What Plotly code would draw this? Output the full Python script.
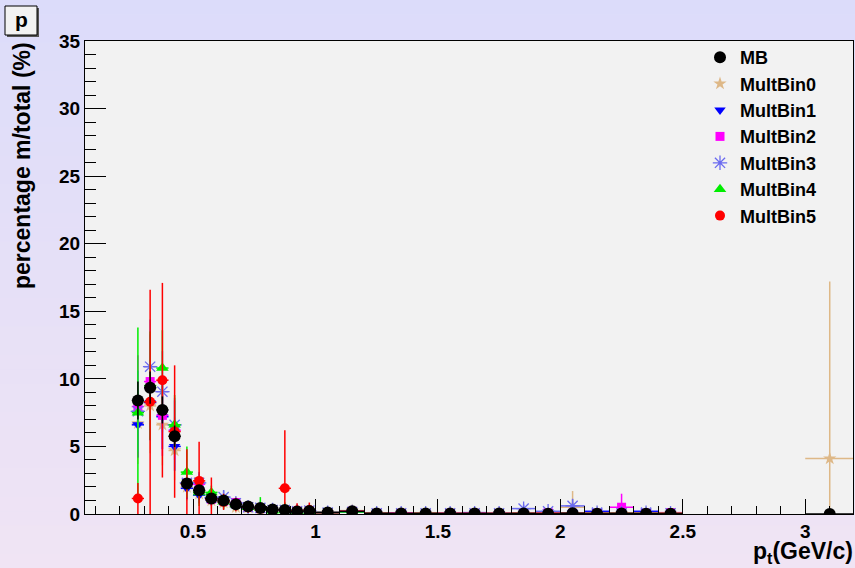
import plotly.graph_objects as go

# ---------------- data ----------------
x_low = [0.275, 0.325, 0.375, 0.425, 0.475, 0.525, 0.575, 0.625, 0.675, 0.725,
         0.775, 0.825, 0.875, 0.925, 0.975]
x_high = [1.05, 1.15, 1.25, 1.35, 1.45, 1.55, 1.65, 1.75, 1.85, 1.95,
          2.05, 2.15, 2.25, 2.35, 2.45]
x_last = [3.1]
pt = x_low + x_high + x_last
pt_err = [0.025] * len(x_low) + [0.05] * len(x_high) + [0.1]

series_names = ["MB", "MultBin0", "MultBin1", "MultBin2", "MultBin3", "MultBin4", "MultBin5"]

mb = [8.4, 9.35, 7.7, 5.75, 2.25, 1.75, 1.15, 1.0, 0.72, 0.55, 0.45, 0.33, 0.3, 0.18, 0.22,
      0.12, 0.2, 0.04, 0.04, 0.03, 0.03, 0.03, 0.03, 0.03, 0.01, 0.05, 0.01, 0.03, 0.02, 0.01,
      0.0]
mb_err = [1.4, 1.2, 1.0, 0.8, 0.4, 0.3, 0.2, 0.2, 0.15, 0.12, 0.1, 0.08, 0.08, 0.06, 0.06,
          0.04, 0.05, 0.02, 0.02, 0.02, 0.02, 0.02, 0.02, 0.02, 0.01, 0.03, 0.01, 0.02, 0.01, 0.01,
          0.0]

mult0 = [6.7, 8.0, 6.6, 4.7, 2.0, 1.5, 1.0, 0.85, 0.5, 0.45, 0.35, 0.25, 0.2, 0.15, 0.2,
         0.1, 0.25, 0.05, 0.05, 0.05, 0.03, 0.03, 0.03, 0.05, 0.03, 0.5, 0.05, 0.05, 0.05, 0.03,
         4.1]
mult0_err = [3.0, 3.5, 3.0, 2.2, 1.0, 0.8, 0.6, 0.5, 0.4, 0.35, 0.3, 0.25, 0.2, 0.2, 0.2,
             0.1, 0.15, 0.05, 0.05, 0.05, 0.03, 0.03, 0.03, 0.05, 0.03, 1.2, 0.05, 0.05, 0.05, 0.03,
             13.1]

mult1 = [6.6, 8.25, 7.2, 5.0, 1.9, 1.4, 1.05, 0.9, 0.6, 0.45, 0.4, 0.3, 0.25, 0.15, 0.2,
         0.1, 0.15, 0.05, 0.05, 0.05, 0.03, 0.1, 0.03, 0.05, 0.15, 0.05, 0.2, 0.05, 0.2, 0.05,
         None]
mult1_err = [2.4, 2.8, 2.4, 1.8, 0.8, 0.6, 0.4, 0.35, 0.3, 0.25, 0.2, 0.2, 0.15, 0.15, 0.15,
             0.08, 0.1, 0.04, 0.04, 0.04, 0.03, 0.08, 0.03, 0.04, 0.1, 0.04, 0.12, 0.04, 0.12, 0.04,
             None]

mult2 = [7.95, 9.8, 7.3, 6.2, 2.3, 2.2, 1.1, 0.95, 0.85, 0.5, 0.4, 0.3, 0.25, 0.2, 0.2,
         0.1, 0.2, 0.05, 0.05, 0.03, 0.05, 0.05, 0.03, 0.05, 0.1, 0.05, 0.05, 0.5, 0.05, 0.1,
         None]
mult2_err = [3.8, 3.5, 3.0, 2.2, 1.0, 0.8, 0.5, 0.4, 0.35, 0.3, 0.25, 0.2, 0.2, 0.15, 0.15,
             0.08, 0.12, 0.04, 0.04, 0.03, 0.04, 0.04, 0.03, 0.04, 0.08, 0.04, 0.04, 1.0, 0.04, 0.08,
             None]

mult3 = [7.6, 10.9, 9.05, 6.6, 2.3, 2.3, 1.2, 1.25, 0.8, 0.5, 0.45, 0.3, 0.3, 0.2, 0.25,
         0.1, 0.15, 0.05, 0.05, 0.05, 0.05, 0.05, 0.05, 0.4, 0.2, 0.6, 0.1, 0.05, 0.1, 0.05,
         None]
mult3_err = [3.0, 3.5, 3.0, 2.0, 1.0, 0.8, 0.5, 0.5, 0.4, 0.3, 0.25, 0.2, 0.2, 0.15, 0.15,
             0.08, 0.1, 0.04, 0.04, 0.04, 0.04, 0.04, 0.04, 0.3, 0.15, 0.5, 0.08, 0.04, 0.08, 0.04,
             None]

mult4 = [7.5, 9.5, 10.8, 6.6, 3.1, 1.6, 1.6, 0.9, 0.7, 0.5, 0.45, 0.1, 0.25, 0.2, 0.2,
         0.1, 0.15, 0.05, 0.02, 0.05, 0.03, 0.03, 0.03, 0.05, 0.05, 0.05, 0.05, 0.05, 0.05, 0.05,
         None]
mult4_err = [6.3, 4.0, 2.8, 2.2, 1.9, 1.0, 0.5, 0.5, 0.4, 0.35, 0.8, 0.2, 0.6, 0.3, 0.3,
             0.1, 0.12, 0.05, 0.05, 0.05, 0.04, 0.04, 0.04, 0.05, 0.05, 0.05, 0.05, 0.05, 0.05, 0.05,
             None]

mult5 = [1.15, 8.3, 9.9, 6.1, 2.2, 2.45, 1.1, 0.9, 0.7, 0.5, 0.4, 0.3, 1.9, 0.25, 0.3,
         0.1, 0.2, 0.05, 0.05, 0.05, 0.05, 0.05, 0.05, 0.05, 0.05, 0.05, 0.05, 0.05, 0.05, 0.05,
         None]
mult5_err = [1.15, 8.3, 7.2, 4.9, 2.6, 2.9, 1.6, 0.6, 0.5, 0.4, 0.3, 0.3, 4.3, 0.55, 0.55,
             0.1, 0.15, 0.05, 0.05, 0.05, 0.05, 0.05, 0.05, 0.05, 0.05, 0.05, 0.05, 0.05, 0.05, 0.05,
             None]

x_ticks = [0.5, 1, 1.5, 2, 2.5, 3]
y_ticks = [0, 5, 10, 15, 20, 25, 30, 35]

# ---------------- styles ----------------
styles = {
    "MB":       dict(color="#000000", symbol="circle", size=12, open=False),
    "MultBin0": dict(color="#deb887", symbol="star", size=10, open=False),
    "MultBin1": dict(color="#0000ff", symbol="triangle-down", size=10, open=False),
    "MultBin2": dict(color="#ff00ff", symbol="square", size=9, open=False),
    "MultBin3": dict(color="#6b6bf0", symbol="asterisk-open", size=12, open=True),
    "MultBin4": dict(color="#00ee00", symbol="triangle-up", size=11, open=False),
    "MultBin5": dict(color="#ff0000", symbol="circle", size=10, open=False),
}
values = {
    "MB": (mb, mb_err), "MultBin0": (mult0, mult0_err), "MultBin1": (mult1, mult1_err),
    "MultBin2": (mult2, mult2_err), "MultBin3": (mult3, mult3_err),
    "MultBin4": (mult4, mult4_err), "MultBin5": (mult5, mult5_err),
}

fig = go.Figure()
draw_order = ["MultBin0", "MultBin1", "MultBin2", "MultBin3", "MultBin4", "MultBin5", "MB"]
for name in draw_order:
    yv, ye = values[name]
    st = styles[name]
    xs = [p for p, v in zip(pt, yv) if v is not None]
    xe = [e for e, v in zip(pt_err, yv) if v is not None]
    ys = [v for v in yv if v is not None]
    es = [e for e, v in zip(ye, yv) if v is not None]
    marker = dict(color=st["color"], symbol=st["symbol"], size=st["size"])
    if st["open"]:
        marker["line"] = dict(color=st["color"], width=1.3)
    else:
        marker["line"] = dict(width=0)
    fig.add_trace(go.Scatter(
        x=xs, y=ys, mode="markers", name=name,
        legendrank=series_names.index(name) + 1,
        marker=marker,
        error_y=dict(type="data", array=es, visible=True, color=st["color"], thickness=1.5, width=0),
        error_x=dict(type="data", array=xe, visible=True, color=st["color"], thickness=1.5, width=0),
        cliponaxis=True,
    ))

# ---------------- layout helpers ----------------
W, H = 855, 568
L, R, T, B = 85, 853, 41, 514
def px(x):
    return (x - L) / (R - L)
def py(y):
    return (B - y) / (B - T)

shapes = []
# gradient background (lavender top -> pinkish bottom)
n = 40
c_top = (220, 220, 250)
c_bot = (240, 228, 244)
for i in range(n):
    y0 = i * H / n
    y1 = (i + 1) * H / n + 0.5
    f = (i + 0.5) / n
    c = tuple(int(round(c_top[k] + (c_bot[k] - c_top[k]) * f)) for k in range(3))
    shapes.append(dict(type="rect", xref="paper", yref="paper",
                       x0=px(0), x1=px(W), y0=py(y1), y1=py(y0),
                       fillcolor="rgb(%d,%d,%d)" % c, line=dict(width=0), layer="below"))
# plot area
shapes.append(dict(type="rect", xref="paper", yref="paper", x0=0, x1=1, y0=0, y1=1,
                   fillcolor="#f2f2f2", line=dict(width=0), layer="below"))
# title box with shadow
shapes.append(dict(type="rect", xref="paper", yref="paper",
                   x0=px(7), x1=px(39), y0=py(37), y1=py(8),
                   fillcolor="#555555", line=dict(width=0), layer="below"))
shapes.append(dict(type="rect", xref="paper", yref="paper",
                   x0=px(5), x1=px(37), y0=py(35), y1=py(6),
                   fillcolor="#f2f2f2", line=dict(color="black", width=1), layer="below"))

bold = dict(family="Liberation Sans, Arial, sans-serif", color="black", weight="bold")

annotations = [
    dict(text="p", xref="paper", yref="paper", x=px(21), y=py(20), showarrow=False,
         xanchor="center", yanchor="middle", font=dict(size=21, **bold)),
    dict(text="percentage m/total (%)", xref="paper", yref="paper", x=px(22), y=py(166),
         showarrow=False, textangle=-90, xanchor="center", yanchor="middle",
         font=dict(size=23, **bold)),
    dict(text="p<sub>t</sub>(GeV/c)", xref="paper", yref="paper", x=px(855), y=py(552),
         showarrow=False, xanchor="right", yanchor="middle", font=dict(size=23, **bold)),
]

fig.update_layout(
    width=W, height=H,
    margin=dict(l=L, r=W - R, t=T, b=H - B, pad=0),
    paper_bgcolor="rgb(230,224,247)",
    plot_bgcolor="#f2f2f2",
    shapes=shapes,
    annotations=annotations,
    showlegend=True,
    legend=dict(x=px(700), y=py(39), xanchor="left", yanchor="top",
                bgcolor="rgba(0,0,0,0)", borderwidth=0,
                font=dict(size=18, **bold), itemwidth=30, tracegroupgap=0),
    xaxis=dict(range=[0.059, 3.195], tickvals=x_ticks, ticktext=[str(v) for v in x_ticks],
               ticks="inside", ticklen=15, tickwidth=1, tickcolor="black",
               minor=dict(ticks="inside", ticklen=8, dtick=0.1, tick0=0, tickcolor="black", tickwidth=1),
               showline=True, linecolor="black", linewidth=1, mirror=True,
               showgrid=False, zeroline=False,
               tickfont=dict(size=19, **bold)),
    yaxis=dict(range=[0, 35], tickvals=y_ticks,
               ticks="inside", ticklen=21, tickwidth=1, tickcolor="black",
               minor=dict(ticks="inside", ticklen=11, dtick=1, tick0=0, tickcolor="black", tickwidth=1),
               showline=True, linecolor="black", linewidth=1, mirror=True,
               showgrid=False, zeroline=False,
               tickfont=dict(size=19, **bold)),
)

fig.write_html("out.html", config={"displayModeBar": False},
               post_script="document.body.style.margin='0px';document.body.style.overflow='hidden';")
